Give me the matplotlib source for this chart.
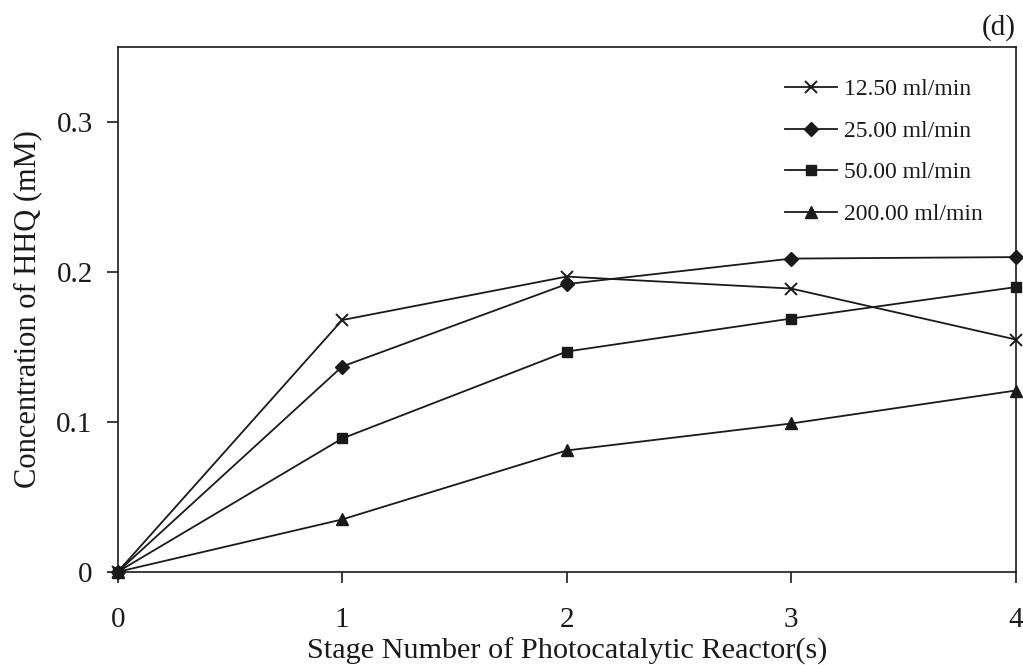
import matplotlib
matplotlib.use("Agg")
import matplotlib.pyplot as plt

stages = [0, 1, 2, 3, 4]
flow_labels = ["12.50 ml/min", "25.00 ml/min", "50.00 ml/min", "200.00 ml/min"]
conc_12_5 = [0.0, 0.168, 0.197, 0.189, 0.155]
conc_25 = [0.0, 0.137, 0.192, 0.209, 0.210]
conc_50 = [0.0, 0.089, 0.147, 0.169, 0.190]
conc_200 = [0.0, 0.035, 0.081, 0.099, 0.121]
x_ticks = [0, 1, 2, 3, 4]
y_ticks = [0, 0.1, 0.2, 0.3]
y_tick_labels = ["0", "0.1", "0.2", "0.3"]

plt.rcParams["font.family"] = ["Liberation Serif", "DejaVu Serif"]

fig = plt.figure(figsize=(10.23, 6.65), dpi=100)
ax = fig.add_axes([0.115, 0.140, 0.878, 0.789])

ink = "#1a1a1a"
series = [
    (conc_12_5, dict(marker="x", markersize=9, markeredgewidth=1.4)),
    (conc_25, dict(marker="D", markersize=7)),
    (conc_50, dict(marker="s", markersize=7.5)),
    (conc_200, dict(marker="^", markersize=8)),
]
for (vals, style), lab in zip(series, flow_labels):
    ax.plot(stages, vals, color=ink, linewidth=1.3, markerfacecolor=ink,
            markeredgecolor=ink, label=lab, clip_on=False, **style)

ax.set_xlim(0, 4)
ax.set_ylim(0, 0.35)
ax.set_xticks(x_ticks)
ax.set_yticks(y_ticks)
ax.set_yticklabels(y_tick_labels)
ax.tick_params(axis="x", direction="out", length=8, width=1.2, pad=17,
               labelsize=21, colors=ink)
ax.tick_params(axis="y", direction="out", length=8, width=1.2, pad=10,
               labelsize=21, colors=ink)
for sp in ax.spines.values():
    sp.set_linewidth(1.2)
    sp.set_color(ink)

ax.set_xlabel("Stage Number of Photocatalytic Reactor(s)", fontsize=21.8,
              color=ink, labelpad=4)
ax.set_ylabel("Concentration of HHQ (mM)", fontsize=22, color=ink, labelpad=10)

leg = ax.legend(loc="upper left", bbox_to_anchor=(0.743, 0.940), frameon=False,
                fontsize=17, handlelength=2.2, handletextpad=0.3,
                labelspacing=0.85, borderpad=0, borderaxespad=0)
for t in leg.get_texts():
    t.set_color(ink)

fig.text(0.993, 0.958, "(d)", fontsize=21, ha="right", va="center", color=ink)

fig.savefig("out.png", dpi=100)
